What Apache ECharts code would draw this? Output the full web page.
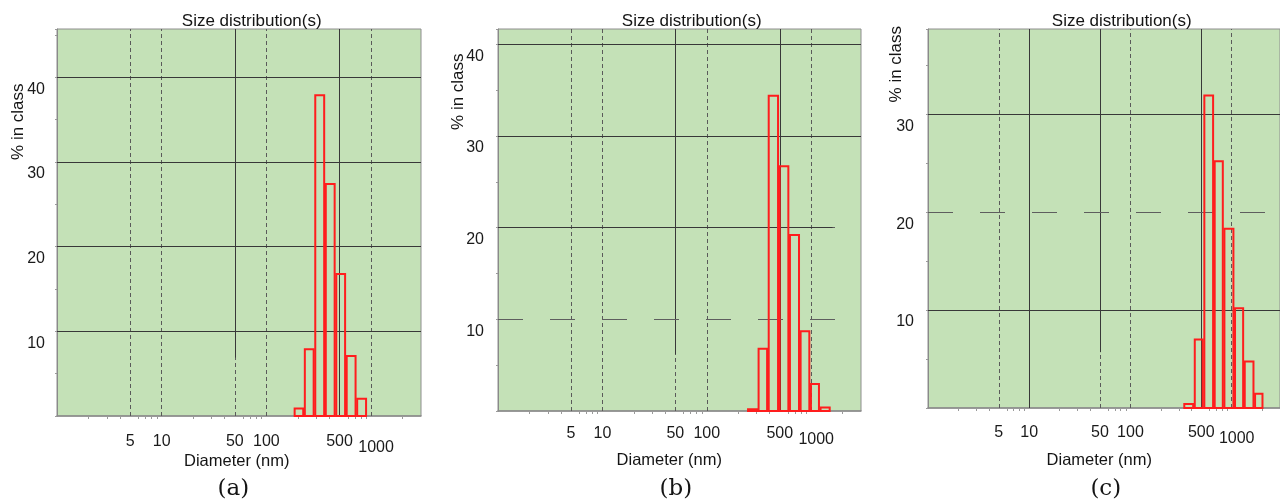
<!DOCTYPE html>
<html><head><meta charset="utf-8">
<script src="https://cdn.jsdelivr.net/npm/echarts@6/dist/echarts.min.js"></script>
<style>html,body{margin:0;padding:0;background:#fff}#c{width:1280px;height:502px}</style>
</head><body><div id="c"></div>
<script>
// ---------- data ----------
const xTickLabels = [5, 10, 50, 100, 500];
const xTickLabelsLowered = [1000];
const xMinorTicks = [2,3,4,6,7,8,9,20,30,40,60,70,80,90,200,300,400,600,700,800,900,2000];
const yTickLabels = [10, 20, 30, 40];

// bin edges (nm) and % in class for each sample
const binEdgesA = [183, 229, 288, 363, 457, 575, 724, 912];
const percentA  = [1.0, 8.0, 38.0, 27.5, 16.9, 7.2, 2.15];
const binEdgesB = [244, 308, 385, 490, 615, 778, 977, 1208, 1531];
const percentB  = [0.3, 6.9, 34.5, 26.8, 19.3, 8.8, 3.05, 0.5];
const binEdgesC = [334, 424, 527, 667, 832, 1059, 1321, 1671, 2051];
const percentC  = [0.5, 7.1, 32.0, 25.3, 18.4, 10.3, 4.85, 1.56];

const panelLetters = ['(a)', '(b)', '(c)'];
const titleText = 'Size distribution(s)';
const xName = 'Diameter (nm)';
const yName = '% in class';

// ---------- layout / styles ----------
const FONT = '"Liberation Sans", Arial, sans-serif';
const panels = [
  { edges: binEdgesA, values: percentA,
    grid: {left: 57, top: 29, width: 364, height: 387}, yMax: 45.7,
    hSolid: [10,20,30,40], hDash: [], hPartial: null,
    vSolid: [500], vDash: [5,10,50,100,1000], solid50From: 6.9,
    xLabelMargin: 18, yLabelMargin: 12,
    title: [251.7, 21.7], yNamePos: [18.8, 121.7], xNamePos: [236.7, 461.5], letterPos: [233.3, 489] },
  { edges: binEdgesB, values: percentB,
    grid: {left: 498, top: 29, width: 363, height: 382}, yMax: 41.67,
    hSolid: [30,40], hDash: [10,20], hPartial: {y: 20, to: 1600},
    vSolid: [500], vDash: [5,10,50,100,1000], solid50From: 6.2,
    xLabelMargin: 15, yLabelMargin: 14,
    title: [691.7, 21.7], yNamePos: [458.3, 91.7], xNamePos: [669.3, 460], letterPos: [675.8, 489] },
  { edges: binEdgesC, values: percentC,
    grid: {left: 928, top: 29, width: 363, height: 379}, yMax: 38.7,
    hSolid: [10,30], hDash: [20], hPartial: null,
    vSolid: [10,500], vDash: [5,50,100,1000], solid50From: 5.7,
    xLabelMargin: 16.5, yLabelMargin: 14,
    title: [1121.7, 21.7], yNamePos: [896.7, 64.2], xNamePos: [1099.3, 460], letterPos: [1105.8, 489] }
];

const solidStyle = {color: '#383838', width: 1, type: 'solid'};
const vDashStyle = {color: '#5a5a5a', width: 1, type: [4, 3]};
const hDashStyle = {color: '#5e5e5e', width: 1, type: [25, 27]};
const labelStyle = {fontSize: 16, fontFamily: FONT, color: '#1a1a1a'};

function renderBars(params, api) {
  const lo = api.value(0), hi = api.value(1), v = api.value(2);
  const p0 = api.coord([lo, 0]);
  const p1 = api.coord([hi, v]);
  return {
    type: 'rect',
    shape: {x: p0[0] + 0.8, y: p1[1] + 1, width: p1[0] - p0[0] - 1.6, height: p0[1] - p1[1] - 1},
    style: {fill: 'none', stroke: '#ff1d1d', lineWidth: 2}
  };
}

const grids = [], xAxes = [], extraXAxes = [], yAxes = [], series = [], graphics = [];
panels.forEach((p, i) => {
  grids.push(Object.assign({show: true, backgroundColor: '#c4e1b7', borderColor: '#8e8e8e', borderWidth: 1, containLabel: false}, p.grid));
  xAxes.push({
    type: 'log', logBase: 10, gridIndex: i, min: 1, max: 3000, position: 'bottom',
    splitLine: {show: false},
    axisLine: {show: true, lineStyle: {color: '#8a8a8a', width: 1.5}},
    axisTick: {show: true, customValues: xMinorTicks, length: 3, inside: false, lineStyle: {color: '#9a9a9a'}},
    axisLabel: Object.assign({
      show: true, customValues: xTickLabels, margin: p.xLabelMargin, verticalAlign: 'top', lineHeight: 16,
      hideOverlap: false, formatter: v => String(Math.round(v))
    }, labelStyle)
  });
  // second, invisible axis on the same scale carrying the lowered "1000" label
  extraXAxes.push({
    type: 'log', logBase: 10, gridIndex: i, min: 1, max: 3000, position: 'bottom', offset: 0,
    splitLine: {show: false}, axisLine: {show: false}, axisTick: {show: false},
    axisLabel: Object.assign({
      show: true, customValues: xTickLabelsLowered, margin: p.xLabelMargin + 6, verticalAlign: 'top', lineHeight: 16,
      padding: [0, 0, 0, 10], hideOverlap: false, formatter: v => String(Math.round(v))
    }, labelStyle)
  });
  yAxes.push({
    type: 'value', gridIndex: i, min: 0, max: p.yMax, interval: 5,
    splitLine: {show: false},
    axisLine: {show: true, lineStyle: {color: '#8a8a8a', width: 1}},
    axisTick: {show: true, length: 2, inside: false, lineStyle: {color: '#9a9a9a'}},
    axisLabel: Object.assign({show: true, customValues: yTickLabels, margin: p.yLabelMargin, verticalAlign: 'top',
      padding: [4, 0, 0, 0], lineHeight: 16}, labelStyle)
  });

  const ml = [];
  p.vDash.forEach(v => ml.push({xAxis: v, lineStyle: vDashStyle}));
  p.vSolid.forEach(v => ml.push({xAxis: v, lineStyle: solidStyle}));
  ml.push([{coord: [50, p.solid50From], lineStyle: solidStyle}, {coord: [50, p.yMax]}]);
  p.hDash.forEach(v => ml.push({yAxis: v, lineStyle: hDashStyle}));
  p.hSolid.forEach(v => ml.push({yAxis: v, lineStyle: solidStyle}));
  if (p.hPartial) ml.push([{coord: [1, p.hPartial.y], lineStyle: solidStyle}, {coord: [p.hPartial.to, p.hPartial.y]}]);

  series.push({
    type: 'line', xAxisIndex: i, yAxisIndex: i, data: [], silent: true, z: 2,
    markLine: {symbol: 'none', silent: true, animation: false, label: {show: false}, emphasis: {disabled: true}, data: ml}
  });
  const barData = p.values.map((v, k) => [p.edges[k], p.edges[k + 1], v]);
  series.push({
    type: 'custom', xAxisIndex: i, yAxisIndex: i, z: 5, silent: true,
    renderItem: renderBars, encode: {x: [0, 1], y: 2}, data: barData
  });

  const txt = (pos, text, font, rot) => ({
    type: 'text', x: pos[0], y: pos[1], rotation: rot || 0, silent: true,
    style: {text: text, font: font, fill: '#141414', align: 'center', verticalAlign: 'middle',
            textAlign: 'center', textVerticalAlign: 'middle'}
  });
  graphics.push(txt(p.title, titleText, '17px ' + FONT));
  graphics.push(txt(p.yNamePos, yName, '17px ' + FONT, Math.PI / 2));
  graphics.push(txt(p.xNamePos, xName, '16.5px ' + FONT));
  graphics.push(txt(p.letterPos, panelLetters[i], '23px "DejaVu Serif", serif'));
});

const chart = echarts.init(document.getElementById('c'), null, {renderer: 'canvas'});
chart.setOption({
  animation: false,
  backgroundColor: '#ffffff',
  grid: grids, xAxis: xAxes.concat(extraXAxes), yAxis: yAxes, series: series, graphic: graphics
});
</script></body></html>
